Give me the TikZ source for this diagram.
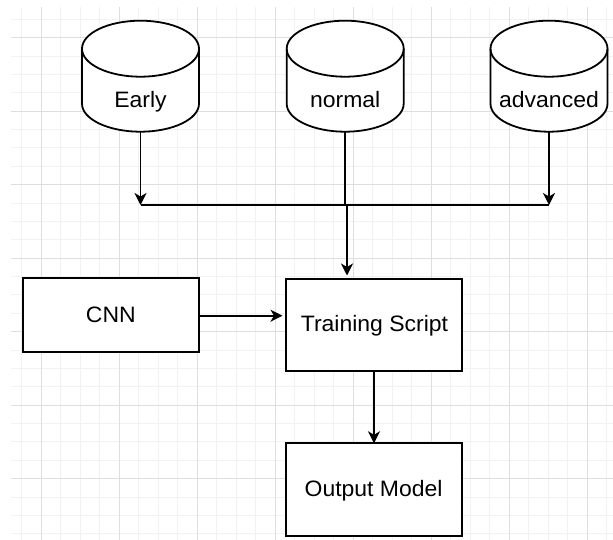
\documentclass[tikz,border=0pt]{standalone}
\usepackage{fontspec}
\setmainfont{Liberation Sans}[FakeStretch=1.03]
\usetikzlibrary{arrows.meta}

\definecolor{gridmajor}{HTML}{DEDEDE}
\definecolor{gridminor}{HTML}{F2F2F2}

\tikzset{
  box/.style={draw, line width=1.8pt, fill=white},
  lbl/.style={anchor=base, font=\fontsize{22.3}{26}\selectfont},
  flow/.style={line width=1.8pt, -{Stealth[length=12pt, width=12pt, inset=3.5pt]}},
  link/.style={line width=1.8pt},
}

% database cylinder: name, centre x, label
\newcommand{\dbcyl}[3]{%
  \filldraw[box] (#2-58.5,-48.7) -- (#2-58.5,-103.7)
    arc[start angle=180, end angle=360, x radius=58.5, y radius=28]
    -- (#2+58.5,-48.7) arc[start angle=0, end angle=180, x radius=58.5, y radius=28] -- cycle;
  \draw[line width=1.8pt] (#2-58.5,-48.7)
    arc[start angle=180, end angle=360, x radius=58.5, y radius=28];
  \node[lbl] (#1) at (#2,-107.3) {#3};
  \coordinate (#1-b) at (#2,-131.7);
}

\begin{document}
\begin{tikzpicture}[x=1pt, y=1pt]
  \useasboundingbox[fill=white] (0,0) rectangle (613,-540);

  % background grid
  \begin{scope}
    \clip (11,-8) rectangle (613,-540);
    \foreach \gx in {0,...,31} \draw[gridminor, line width=1pt] (21.5+19.5*\gx,0) -- (21.5+19.5*\gx,-540);
    \foreach \gy in {0,...,29} \draw[gridminor, line width=1pt] (0,-19.3-18.375*\gy) -- (613,-19.3-18.375*\gy);
    \foreach \gx in {0,...,7} \draw[gridmajor, line width=1pt] (41+78*\gx,0) -- (41+78*\gx,-540);
    \foreach \gy in {0,...,6} \draw[gridmajor, line width=1pt] (0,-37.7-73.5*\gy) -- (613,-37.7-73.5*\gy);
  \end{scope}

  % data sets
  \dbcyl{early}{140.5}{Early}
  \dbcyl{normal}{345.2}{normal}
  \dbcyl{advanced}{549}{advanced}

  % blocks
  \filldraw[box] (23,-278.3) rectangle (199,-352.3);
  \node[lbl] (cnn) at (110.8,-322.7) {CNN};
  \coordinate (cnn-e) at (199,-315.7);

  \filldraw[box] (286,-279) rectangle (462.3,-370.7);
  \node[lbl] (train) at (374.5,-331.7) {Training Script};
  \coordinate (train-w) at (286,-315.7);
  \coordinate (train-n) at (347,-279);
  \coordinate (train-s) at (374,-370.7);

  \filldraw[box] (286,-443.3) rectangle (462.3,-536);
  \node[lbl] (out) at (373.6,-496.7) {Output Model};
  \coordinate (out-n) at (374,-443.3);

  % joining line
  \coordinate (jl) at (140.5,-205);
  \coordinate (jm) at (345.2,-205);
  \coordinate (jm2) at (347,-205);
  \coordinate (jr) at (549,-205);

  \draw[link] (jl) -- (jr);
  \draw[link] (normal-b) -- (jm);
  \draw[flow] (early-b) -- (jl);
  \draw[flow] (advanced-b) -- (jr);
  \draw[flow, shorten >=3.5pt] (jm2) -- (train-n);
  \draw[flow, shorten >=3.5pt] (cnn-e) -- (train-w);
  \draw[flow] (train-s) -- (out-n);
\end{tikzpicture}
\end{document}
